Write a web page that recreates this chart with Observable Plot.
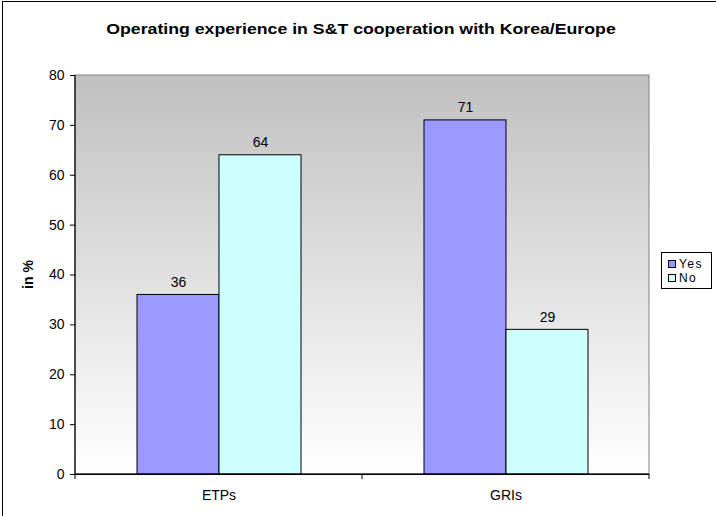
<!DOCTYPE html>
<html><head><meta charset="utf-8">
<script src="https://cdn.jsdelivr.net/npm/d3@7"></script>
<script src="https://cdn.jsdelivr.net/npm/@observablehq/plot@0.6"></script>
<style>
body{margin:0;background:#fff;font-family:"Liberation Sans",Arial,sans-serif;}
#wrap{position:relative;width:716px;height:516px;overflow:hidden;background:#fff;}
#border{position:absolute;left:2px;top:1px;width:800px;height:600px;border-left:1px solid #000;border-top:1px solid #000;}
#title{position:absolute;left:0;top:20px;width:722px;text-align:center;font-weight:bold;font-size:15px;line-height:17px;color:#000;transform:scaleX(1.18);transform-origin:361px 50%;}
#chart{position:absolute;left:0;top:0;}
#legend{position:absolute;left:661px;top:252px;width:51px;height:37px;box-sizing:border-box;border:1px solid #000;background:#fff;padding-top:4px;padding-left:6px;font-size:12px;color:#000;}
#legend .row{height:14px;line-height:14px;white-space:nowrap;display:flex;align-items:center;}
#legend .sw{display:inline-block;width:8px;height:8px;box-sizing:border-box;border:1px solid #000;margin-right:3px;flex:none;}
#legend .lb{letter-spacing:1.4px;}
</style>
</head><body>
<div id="wrap">
  <div id="border"></div>
  <div id="chart"></div>
  <div id="title"></div>
  <div id="legend"></div>
</div>
<script>
const titleText = "Operating experience in S&T cooperation with Korea/Europe";
const yLabel = "in %";
const categories = ["ETPs", "GRIs"];
const series = ["Yes", "No"];
const yesValues = [36, 71];
const noValues = [64, 29];
const seriesColors = ["#9999FF", "#CCFFFF"];
const yTicks = [0, 10, 20, 30, 40, 50, 60, 70, 80];

const valuesBySeries = {Yes: yesValues, No: noValues};
const data = categories.flatMap((c, i) => series.map(s => ({category: c, series: s, value: valuesBySeries[s][i]})));

document.getElementById("title").textContent = titleText;

const font = '"Liberation Sans", Arial, sans-serif';
const chart = Plot.plot({
  width: 716, height: 516,
  marginLeft: 74, marginRight: 67, marginTop: 75, marginBottom: 42,
  style: {fontFamily: font, fontSize: "14px", color: "#000", background: "transparent"},
  fx: {domain: categories, padding: 0, label: null},
  x: {domain: series, paddingInner: 0, paddingOuter: 0.75, axis: null},
  y: {domain: [yTicks[0], yTicks[yTicks.length - 1]], label: null},
  color: {domain: series, range: seriesColors},
  marks: [
    Plot.barY(data, {fx: "category", x: "series", y: "value", fill: "series", stroke: "#000", strokeWidth: 1}),
    Plot.text(data, {fx: "category", x: "series", y: "value", text: d => String(d.value), lineAnchor: "bottom", dy: -8, fontSize: 14, fill: "#000"}),
    Plot.axisY({ticks: yTicks, tickSize: 5, tickPadding: 6, fontSize: 14, label: null, stroke: "#000"}),
    Plot.axisFx({anchor: "bottom", tickSize: 0, tickPadding: 16, fontSize: 14, label: null}),
    Plot.ruleY([0], {stroke: "#000", strokeWidth: 1.2})
  ]
});
document.getElementById("chart").appendChild(chart);

// plot area background, border, axis line and category boundary ticks from the scales
const fx = chart.scale("fx"), y = chart.scale("y");
const bandLefts = categories.map(c => fx.apply(c));
const xLeft = bandLefts[0];
const xRight = bandLefts[bandLefts.length - 1] + fx.bandwidth;
const yTop = y.apply(yTicks[yTicks.length - 1]);
const yBot = y.apply(yTicks[0]);
const svg = d3.select(chart);
const defs = svg.insert("defs", ":first-child");
const grad = defs.append("linearGradient").attr("id", "bgGrad").attr("x1", 0).attr("y1", 0).attr("x2", 0).attr("y2", 1);
grad.append("stop").attr("offset", 0).attr("stop-color", "#C0C0C0");
grad.append("stop").attr("offset", 1).attr("stop-color", "#FFFFFF");
svg.insert("rect", "defs + *").attr("x", xLeft).attr("y", yTop).attr("width", xRight - xLeft).attr("height", yBot - yTop)
  .attr("fill", "url(#bgGrad)").attr("stroke", "#808080").attr("stroke-width", 1);
const g = svg.append("g");
g.append("line").attr("x1", xLeft).attr("x2", xLeft).attr("y1", yTop).attr("y2", yBot + 0.5).attr("stroke", "#000").attr("stroke-width", 1.2);
g.append("line").attr("x1", xLeft).attr("x2", xRight).attr("y1", yBot).attr("y2", yBot).attr("stroke", "#000").attr("stroke-width", 1.2);
[...bandLefts, xRight].forEach(x => {
  g.append("line").attr("x1", x).attr("x2", x).attr("y1", yBot).attr("y2", yBot + 5).attr("stroke", "#000").attr("stroke-width", 1);
});
g.append("text").attr("transform", `translate(28,${(yTop + yBot) / 2}) rotate(-90)`)
  .attr("text-anchor", "middle").attr("dy", "0.35em")
  .attr("font-weight", "bold").attr("font-size", 14).attr("font-family", font).attr("fill", "#000").text(yLabel);

// legend
const legend = d3.select("#legend");
series.forEach((s, i) => {
  const row = legend.append("div").attr("class", "row");
  row.append("span").attr("class", "sw").style("background", seriesColors[i]);
  row.append("span").attr("class", "lb").text(s);
});
</script>
</body></html>
